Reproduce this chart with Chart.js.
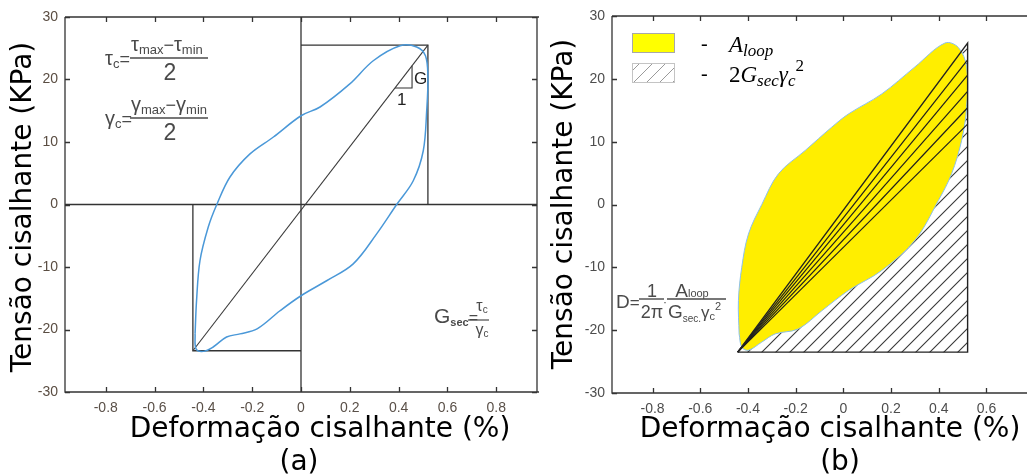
<!DOCTYPE html>
<html>
<head>
<meta charset="utf-8">
<script src="https://cdn.jsdelivr.net/npm/chart.js@4.4.1/dist/chart.umd.min.js"></script>
<style>
  body { margin: 0; background: #fff; }
  #wrap { position: relative; width: 1027px; height: 474px; overflow: hidden; }
  canvas { position: absolute; top: 0; }
  #chartA { left: 0; }
  #chartB { left: 540px; }
</style>
</head>
<body>
<div id="wrap">
  <canvas id="chartA" width="540" height="474"></canvas>
  <canvas id="chartB" width="487" height="474"></canvas>
</div>
<script>
// tick labels
const xTicksA = [-0.8, -0.6, -0.4, -0.2, 0, 0.2, 0.4, 0.6, 0.8];
const xTicksB = [-0.8, -0.6, -0.4, -0.2, 0, 0.2, 0.4, 0.6];
const yTicks = [-30, -20, -10, 0, 10, 20, 30];

const xTitle = "Deformação cisalhante (%)";
const yTitle = "Tensão cisalhante (KPa)";

// hysteresis loop (a)
const loopAX = [-0.434, -0.428, -0.414, -0.38, -0.345, -0.291, -0.209, -0.113, 0, 0.078, 0.2, 0.296, 0.406, 0.474, 0.51, 0.52, 0.515, 0.501, 0.46, 0.392, 0.31, 0.214, 0.105, 0, -0.086, -0.18, -0.25, -0.305, -0.36, -0.4, -0.43, -0.434];
const loopAY = [-20.7, -15.4, -9, -3.6, 0, 4.4, 8.1, 10.8, 14.2, 15.6, 19.3, 23, 25.4, 25.2, 23.8, 20.4, 15, 8.6, 3.8, 0, -4.7, -9.5, -12.2, -14.6, -17, -19.9, -20.7, -21.2, -22.8, -23.5, -23.1, -20.7];

// hysteresis loop (b)
const loopBX = [-0.437, -0.44, -0.426, -0.398, -0.342, -0.272, -0.16, -0.049, 0.021, 0.161, 0.3, 0.426, 0.482, 0.517, 0.517, 0.496, 0.454, 0.398, 0.3, 0.161, 0.021, -0.09, -0.189, -0.286, -0.342, -0.398, -0.426, -0.437];
const loopBY = [-20.6, -15.3, -10, -4.7, 0, 4.9, 8.6, 12.3, 14.4, 17.6, 21.9, 25.7, 25, 21.9, 15.5, 10.2, 4.9, 0.6, -5.7, -10.5, -13.7, -16.9, -19.8, -20.6, -21.9, -23.2, -22.7, -20.6];

// extremes [min, max]
const gammaA = [-0.443, 0.52];
const tauA = [-23.4, 25.5];
const gammaB = [-0.443, 0.521];
const tauB = [-23.5, 25.7];

// slope triangle on the secant line (a)
const slopeX = [0.385, 0.455];
// lines from the lower corner to the right edge (b)
const fanEnds = [23.0, 20.6, 18.0, 15.4, 12.8];

const pts = (xs, ys) => xs.map((x, i) => ({x: x, y: ys[i]}));
const line = (data, color, width, extra) => Object.assign({
  data: data, showLine: true, borderColor: color, borderWidth: width,
  pointRadius: 0, fill: false, tension: 0
}, extra || {});

const yAtA = x => tauA[0] + (x - gammaA[0]) * (tauA[1] - tauA[0]) / (gammaA[1] - gammaA[0]);

//* frame with inward ticks
const framePlugin = {
  id: 'frame',
  beforeDatasetsDraw(chart, args, opts) {
    const {ctx, chartArea: a, scales} = chart;
    const x = scales.x, y = scales.y;
    ctx.save();
    ctx.strokeStyle = '#333';
    ctx.lineWidth = 1.3;
    ctx.beginPath();
    ctx.moveTo(a.left, a.top); ctx.lineTo(a.left, a.bottom); ctx.lineTo(a.right + 2, a.bottom);
    ctx.moveTo(a.left, a.top); ctx.lineTo(a.right + 2, a.top);
    if (opts.right) { ctx.moveTo(a.right, a.top); ctx.lineTo(a.right, a.bottom); }
    x.ticks.forEach(t => {
      const px = Math.round(x.getPixelForValue(t.value)) + 0.5;
      ctx.moveTo(px, a.bottom); ctx.lineTo(px, a.bottom - 5);
      ctx.moveTo(px, a.top); ctx.lineTo(px, a.top + 5);
    });
    y.ticks.forEach(t => {
      const py = Math.round(y.getPixelForValue(t.value)) + 0.5;
      ctx.moveTo(a.left, py); ctx.lineTo(a.left + 5, py);
      if (opts.right) { ctx.moveTo(a.right, py); ctx.lineTo(a.right - 5, py); }
    });
    if (opts.zero) {
      const x0 = x.getPixelForValue(0), y0 = y.getPixelForValue(0);
      ctx.moveTo(x0, a.top); ctx.lineTo(x0, a.bottom);
      ctx.moveTo(a.left, y0); ctx.lineTo(a.right, y0);
    }
    ctx.stroke();
    ctx.restore();
  }
};

//* fill a closed dataset path (yellow loop / hatched triangle)
const fills = {};
const shapeFillPlugin = {
  id: 'shapeFill',
  beforeDatasetDraw(chart, args) {
    const ds = chart.data.datasets[args.index];
    if (!ds.shapeFill || !fills[ds.shapeFill]) return;
    const ctx = chart.ctx, a = chart.chartArea;
    ctx.save();
    ctx.beginPath(); ctx.rect(a.left, a.top, a.width, a.height); ctx.clip();
    ctx.beginPath();
    args.meta.dataset.path(ctx);
    ctx.closePath();
    ctx.fillStyle = fills[ds.shapeFill];
    ctx.fill();
    ctx.restore();
  }
};

function runsWidth(ctx, parts) {
  let w = 0;
  parts.forEach(p => { ctx.font = p[1]; w += ctx.measureText(p[0]).width; });
  return w;
}
function runs(ctx, x, y, parts) {
  ctx.textAlign = 'left';
  ctx.textBaseline = 'alphabetic';
  parts.forEach(p => {
    ctx.font = p[1];
    ctx.fillText(p[0], x, y + (p[2] || 0));
    x += ctx.measureText(p[0]).width;
  });
  return x;
}
function runsCenter(ctx, cx, y, parts) {
  return runs(ctx, cx - runsWidth(ctx, parts) / 2, y, parts);
}
function bar(ctx, x1, x2, y) {
  ctx.beginPath(); ctx.moveTo(x1, y); ctx.lineTo(x2, y); ctx.stroke();
}
function titles(ctx, yx, yy, xx, lx, letter) {
  ctx.fillStyle = '#000';
  ctx.font = '28px "DejaVu Sans"';
  ctx.textAlign = 'center';
  ctx.textBaseline = 'middle';
  ctx.save();
  ctx.translate(yx, yy);
  ctx.rotate(-Math.PI / 2);
  ctx.fillText(yTitle, 0, 0);
  ctx.restore();
  ctx.textBaseline = 'alphabetic';
  ctx.fillText(xTitle, xx, 437);
  ctx.fillText('(' + letter + ')', lx, 470);
}

const sans = s => s + 'px "Liberation Sans"';

const textA = {
  id: 'textA',
  afterDraw(chart) {
    const ctx = chart.ctx;
    ctx.save();
    titles(ctx, 24, 207, 320, 299, 'a');
    ctx.fillStyle = '#4a4a4a';
    ctx.strokeStyle = '#4a4a4a';
    ctx.lineWidth = 1.5;
    // tau_c
    runs(ctx, 105, 65, [['τ', sans(20)], ['c', sans(13), 3], ['=', sans(18)]]);
    runs(ctx, 131, 51, [['τ', sans(20)], ['max', sans(13), 3], ['−', sans(18)], ['τ', sans(20)], ['min', sans(13), 3]]);
    bar(ctx, 130, 208, 58);
    runsCenter(ctx, 170, 80, [['2', sans(23)]]);
    // gamma_c
    runs(ctx, 105, 125, [['γ', sans(20)], ['c', sans(13), 3], ['=', sans(18)]]);
    runs(ctx, 131, 111, [['γ', sans(20)], ['max', sans(13), 3], ['−', sans(18)], ['γ', sans(20)], ['min', sans(13), 3]]);
    bar(ctx, 130, 208, 118);
    runsCenter(ctx, 170, 140, [['2', sans(23)]]);
    // G_sec
    runs(ctx, 434, 323, [['G', sans(21)], ['sec', 'bold ' + sans(11), 3], ['=', sans(16)]]);
    ctx.lineWidth = 1.2;
    bar(ctx, 468, 489, 320);
    runsCenter(ctx, 482, 311, [['τ', sans(16)], ['c', sans(10), 2]]);
    runsCenter(ctx, 482, 335, [['γ', sans(16)], ['c', sans(10), 2]]);
    // slope labels
    ctx.fillStyle = '#222';
    runs(ctx, 414, 84, [['G', sans(17)]]);
    runs(ctx, 397, 105, [['1', sans(17)]]);
    ctx.restore();
  }
};

const textB = {
  id: 'textB',
  afterDraw(chart) {
    const ctx = chart.ctx;
    ctx.save();
    ctx.translate(-540, 0);
    titles(ctx, 565, 204, 830, 840, 'b');
    // legend
    ctx.fillStyle = '#ffff00';
    ctx.fillRect(632, 33, 42, 19);
    ctx.strokeStyle = '#a8a8a8';
    ctx.lineWidth = 1;
    ctx.strokeRect(632.5, 33.5, 42, 19);
    ctx.save();
    ctx.beginPath(); ctx.rect(632.5, 63.5, 42, 19); ctx.clip();
    ctx.strokeStyle = '#9a9a9a';
    ctx.beginPath();
    for (let hx = 620; hx < 690; hx += 13) { ctx.moveTo(hx, 83); ctx.lineTo(hx + 19, 64); }
    ctx.stroke();
    ctx.restore();
    ctx.strokeStyle = '#c4c4c4';
    ctx.strokeRect(632.5, 63.5, 42, 19);
    ctx.fillStyle = '#000';
    runs(ctx, 701, 50, [['-', '20px "Liberation Serif"']]);
    runs(ctx, 701, 80, [['-', '20px "Liberation Serif"']]);
    const it = s => 'italic ' + s + 'px "Liberation Serif"';
    runs(ctx, 729, 52, [['A', it(23)], ['loop', it(17), 4]]);
    runs(ctx, 729, 82, [['2', '23px "Liberation Serif"'], ['G', it(23)], ['sec', it(17), 4], ['γ', it(23)], ['c', it(17), 4], ['2', '17px "Liberation Serif"', -11]]);
    // damping formula
    ctx.fillStyle = '#4a4a4a';
    ctx.strokeStyle = '#4a4a4a';
    ctx.lineWidth = 1.4;
    runs(ctx, 616, 308, [['D', sans(19)], ['=', sans(17)]]);
    bar(ctx, 639, 664, 299);
    runsCenter(ctx, 652, 297, [['1', sans(18)]]);
    runsCenter(ctx, 652, 318, [['2π', sans(18)]]);
    runs(ctx, 663, 306, [['·', sans(12)]]);
    bar(ctx, 667, 726, 299);
    runsCenter(ctx, 692, 297, [['A', sans(19)], ['loop', sans(11), 0]]);
    runs(ctx, 668, 318, [['G', sans(19)], ['sec.', sans(10), 4], ['γ', sans(17)], ['c', sans(11), 2], ['2', sans(11), -8]]);
    ctx.restore();
  }
};

const tickFont = {family: 'Liberation Sans', size: 14};

function scalesFor(xmin, xmax, xTicks, yWidth, xHeight, xColor, yColor) {
  return {
    x: {
      type: 'linear', min: xmin, max: xmax,
      grid: {display: false, drawTicks: false}, border: {display: false},
      afterBuildTicks: s => { s.ticks = xTicks.map(v => ({value: v})); },
      afterFit: s => { s.height = xHeight; },
      ticks: {padding: 8, color: xColor, font: tickFont, maxRotation: 0, autoSkip: false, callback: v => String(v)}
    },
    y: {
      type: 'linear', min: -30, max: 30,
      grid: {display: false, drawTicks: false}, border: {display: false},
      afterBuildTicks: s => { s.ticks = yTicks.map(v => ({value: v})); },
      afterFit: s => { s.width = yWidth; },
      ticks: {padding: 7, color: yColor, font: tickFont, callback: v => String(v)}
    }
  };
}

// Chart (a)
new Chart(document.getElementById('chartA'), {
  type: 'scatter',
  data: {
    datasets: [
      line(pts(loopAX, loopAY), '#4a98d8', 1.5, {tension: 0.35}),
      line([{x: gammaA[0], y: tauA[0]}, {x: gammaA[1], y: tauA[1]}], '#3a3a3a', 1.1),
      line([{x: 0, y: tauA[1]}, {x: gammaA[1], y: tauA[1]}, {x: gammaA[1], y: 0}], '#333', 1.3),
      line([{x: gammaA[0], y: 0}, {x: gammaA[0], y: tauA[0]}, {x: 0, y: tauA[0]}], '#333', 1.3),
      line([{x: slopeX[0], y: yAtA(slopeX[0])}, {x: slopeX[1], y: yAtA(slopeX[0])}, {x: slopeX[1], y: yAtA(slopeX[1])}], '#333', 1.1)
    ]
  },
  options: {
    responsive: false,
    animation: false,
    layout: {padding: {top: 17, right: 3, left: 0, bottom: 0}},
    plugins: {legend: {display: false}, tooltip: {enabled: false}, frame: {right: true, zero: true}},
    scales: scalesFor(-0.967, 0.967, xTicksA, 65, 82, '#5a5048', '#5a4d42')
  },
  plugins: [framePlugin, shapeFillPlugin, textA]
});

// Chart (b)
const ctxB = document.getElementById('chartB').getContext('2d');
const tile = document.createElement('canvas');
tile.width = 14; tile.height = 14;
const tc = tile.getContext('2d');
tc.strokeStyle = '#383838';
tc.lineWidth = 1.1;
tc.beginPath();
tc.moveTo(-2, 16); tc.lineTo(16, -2);
tc.moveTo(-2, 2); tc.lineTo(2, -2);
tc.moveTo(12, 16); tc.lineTo(16, 12);
tc.stroke();
fills.hatch = ctxB.createPattern(tile, 'repeat');
fills.yellow = '#ffee00';

const triangleB = [{x: gammaB[0], y: tauB[0]}, {x: gammaB[1], y: tauB[0]}, {x: gammaB[1], y: tauB[1]}, {x: gammaB[0], y: tauB[0]}];
const fanSets = fanEnds.map(v => line([{x: gammaB[0], y: tauB[0]}, {x: gammaB[1], y: v}], '#1e1e1e', 1.2));

new Chart(ctxB, {
  type: 'scatter',
  data: {
    datasets: [line(triangleB, '#222', 1.4)].concat(fanSets, [
      line(pts(loopBX, loopBY), '#8cc0ec', 1, {tension: 0.35, shapeFill: 'yellow'}),
      line(triangleB, 'rgba(0,0,0,0)', 1, {shapeFill: 'hatch'})
    ])
  },
  options: {
    responsive: false,
    animation: false,
    layout: {padding: {top: 16, right: 0, left: 0, bottom: 0}},
    plugins: {legend: {display: false}, tooltip: {enabled: false}, frame: {right: false, zero: false}},
    scales: scalesFor(-0.97, 0.77, xTicksB, 72, 81, '#4d4d4d', '#4d4d4d')
  },
  plugins: [framePlugin, shapeFillPlugin, textB]
});
</script>
</body>
</html>
